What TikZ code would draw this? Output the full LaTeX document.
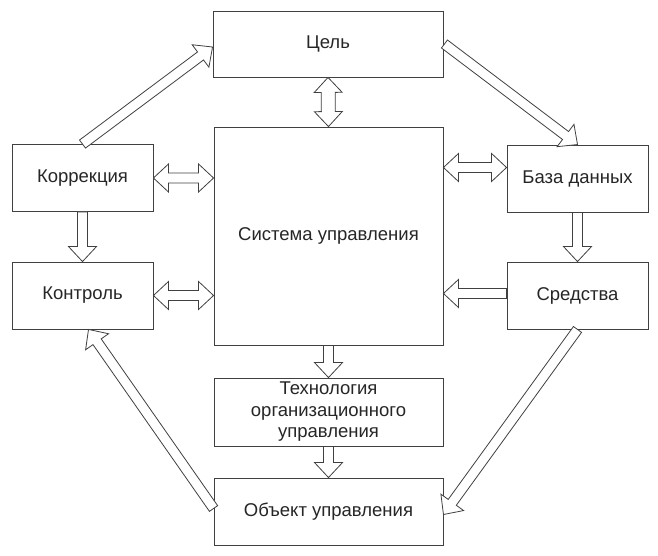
\documentclass[tikz,border=0pt]{standalone}
\usepackage{fontspec}
\setmainfont{Liberation Sans}
\usetikzlibrary{calc}
\def\hlen{15pt}
\def\hsw{5pt}
\def\hhw{14pt}
\newcommand{\oneArrow}[2]{%
 \coordinate (ha) at (#1); \coordinate (hb) at (#2);
 \coordinate (hh) at ($(hb)!\hlen!(ha)$);
 \draw[harr] ($(ha)!\hsw!90:(hb)$) -- ($(hh)!\hsw!90:(hb)$) -- ($(hh)!\hhw!90:(hb)$) -- (hb) -- ($(hh)!\hhw!-90:(hb)$) -- ($(hh)!\hsw!-90:(hb)$) -- ($(ha)!\hsw!-90:(hb)$) -- cycle;}
\newcommand{\twoArrow}[2]{%
 \coordinate (ha) at (#1); \coordinate (hb) at (#2);
 \coordinate (hh) at ($(hb)!\hlen!(ha)$);
 \coordinate (hg) at ($(ha)!\hlen!(hb)$);
 \draw[harr] (ha) -- ($(hg)!\hhw!90:(hb)$) -- ($(hg)!\hsw!90:(hb)$) -- ($(hh)!\hsw!90:(hb)$) -- ($(hh)!\hhw!90:(hb)$) -- (hb) -- ($(hh)!\hhw!-90:(hb)$) -- ($(hh)!\hsw!-90:(hb)$) -- ($(hg)!\hsw!-90:(hb)$) -- ($(hg)!\hhw!-90:(hb)$) -- cycle;}
\begin{document}
\begin{tikzpicture}[x=1pt,y=-1pt,
  box/.style={draw=black!75, line width=0.9pt, fill=white, inner sep=0pt, align=center,
    font=\fontsize{18.5}{21.5}\selectfont, text=black!85},
  harr/.style={draw=black!75, line width=0.8pt, fill=white, line join=miter}]
\useasboundingbox (0,0) rectangle (658,556);
\node[box, minimum width=230, minimum height=66] (cel) at (328,44) {Цель};
\node[box, minimum width=229, minimum height=218] (sys) at (328.5,236) {Система управления};
\node[box, minimum width=141, minimum height=67] (kor) at (82.5,178) {Коррекция};
\node[box, minimum width=141, minimum height=67] (kon) at (82.5,295.5) {Контроль};
\node[box, minimum width=141, minimum height=67] (baza) at (577.5,178.5) {База данных};
\node[box, minimum width=141, minimum height=67] (sred) at (577.5,295.5) {Средства};
\node[box, minimum width=229, minimum height=68] (tech) at (328.5,412) {Технология\\организационного\\управления};
\node[box, minimum width=229, minimum height=67] (obj) at (328.5,511.5) {Объект управления};
% connector end points
\coordinate (a1) at (cel.south);
\coordinate (a2) at (sys.north);
\coordinate (b1) at (kor.east);
\coordinate (b2) at (sys.west |- kor.east);
\coordinate (c1) at (kon.east);
\coordinate (c2) at (sys.west |- kon.east);
\coordinate (d1) at ($(baza.west)+(0,-11)$);
\coordinate (d2) at (sys.east |- d1);
\coordinate (e1) at (kor.south);
\coordinate (e2) at (kon.north);
\coordinate (f1) at (baza.south);
\coordinate (f2) at (sred.north);
\coordinate (g1) at ($(sred.west)+(0,-2)$);
\coordinate (g2) at (sys.east |- g1);
\coordinate (h1) at (sys.south);
\coordinate (h2) at (tech.north);
\coordinate (i1) at (tech.south);
\coordinate (i2) at (obj.north);
\coordinate (j1) at (kor.north);
\coordinate (j2) at ($(cel.west)+(0,3)$);
\coordinate (k1) at ($(cel.east)+(1,0)$);
\coordinate (k2) at (baza.north);
\coordinate (l1) at (sred.south);
\coordinate (l2) at ($(obj.east)+(0,3)$);
\coordinate (m1) at ($(obj.west)+(0,-3)$);
\coordinate (m2) at ($(kon.south)+(6,0)$);
{\def\hsw{7pt}\twoArrow{a1}{a2}}
\twoArrow{b1}{b2}
\twoArrow{c1}{c2}
\twoArrow{d1}{d2}
\oneArrow{e1}{e2}
\oneArrow{f1}{f2}
\oneArrow{g1}{g2}
\oneArrow{h1}{h2}
\oneArrow{i1}{i2}
\oneArrow{j1}{j2}
\oneArrow{k1}{k2}
\oneArrow{l1}{l2}
\oneArrow{m1}{m2}
\end{tikzpicture}
\end{document}
